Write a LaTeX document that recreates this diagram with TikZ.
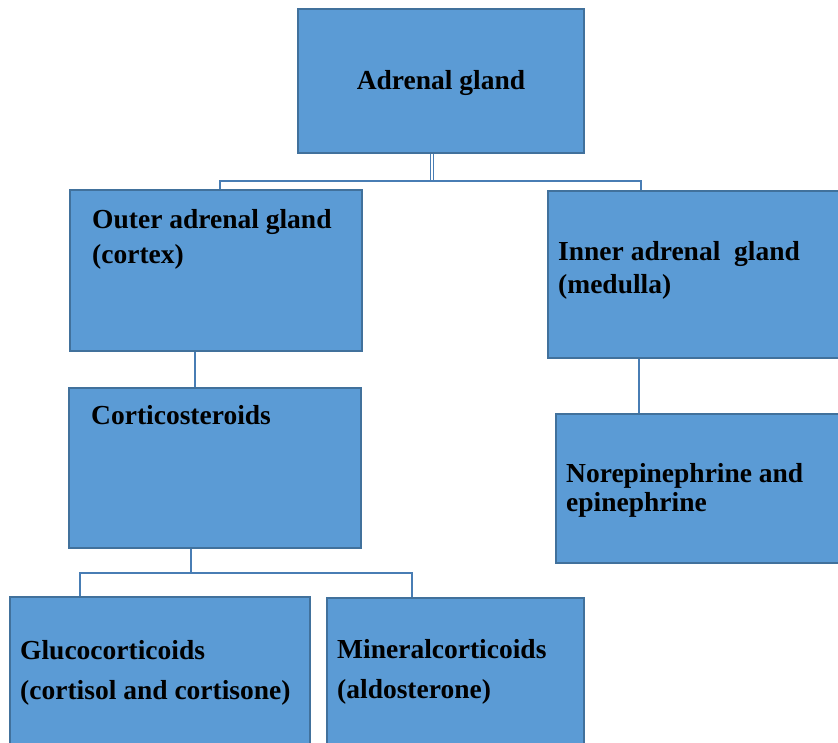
\documentclass[tikz,border=0pt]{standalone}
\usepackage{fontspec}
\setmainfont{Liberation Serif}
\definecolor{boxfill}{RGB}{91,155,213}
\definecolor{boxline}{RGB}{65,113,156}
\definecolor{linkblue}{RGB}{72,125,180}

\begin{document}
\begin{tikzpicture}[x=1pt,y=-1pt,line cap=butt,line join=miter,
    box/.style={draw=boxline,fill=boxfill,line width=1.8pt,inner sep=0pt},
    lbl/.style={inner sep=0pt,font=\bfseries\fontsize{27.5}{34}\selectfont},
    link/.style={draw=linkblue,line width=1.6pt}]
        \useasboundingbox (0,0) rectangle (838,742);

        % Cajas
        \node[box,minimum width=286pt,minimum height=144pt] (adrenal) at (441,81) {};
        \node[box,minimum width=292pt,minimum height=161pt] (outer) at (216,270.5) {};
        \node[box,minimum width=292pt,minimum height=167pt] (inner) at (694,274.5) {};
        \node[box,minimum width=292pt,minimum height=160pt] (cortico) at (215,468) {};
        \node[box,minimum width=284pt,minimum height=149pt] (norepi) at (698,488.5) {};
        \node[box,minimum width=300pt,minimum height=150pt] (gluco) at (160,672) {};
        \node[box,minimum width=257pt,minimum height=150pt] (mineral) at (455.5,673) {};

        % Textos (base = linea de base de la ultima linea)
        \node[lbl,anchor=base] (tAdrenal) at (441,89) {Adrenal gland};
        \node[lbl,anchor=base west,align=left] (tOuter) at (92,263)
            {Outer adrenal gland\\[1pt](cortex)};
        \node[lbl,anchor=base west,align=left] (tInner) at (558,293)
            {Inner adrenal\ \ gland\\[-1pt](medulla)};
        \node[lbl,anchor=base west] (tCortico) at (91,424) {Corticosteroids};
        \node[lbl,anchor=base west,align=left] (tNorepi) at (566,511)
            {Norepinephrine and\\[-5pt]epinephrine};
        \node[lbl,anchor=base west,align=left] (tGluco) at (20,699)
            {Glucocorticoids\\[6pt](cortisol and cortisone)};
        \node[lbl,anchor=base west,align=left] (tMineral) at (337,698)
            {Mineralcorticoids\\[6pt](aldosterone)};

        % Conectores
        \coordinate (split) at (432,181);
        \coordinate (tapL) at (220,181);
        \coordinate (tapR) at (641,181);
        \draw[link,double=white,double distance=1.6pt,line width=1.2pt] (adrenal.south -| split) -- (split);
        \draw[link] (tapL |- outer.north) -- (tapL) -- (tapR) -- (tapR |- inner.north);

        \coordinate (midL) at (195,0);
        \draw[link] (midL |- outer.south) -- (midL |- cortico.north);

        \coordinate (midR) at (639,0);
        \draw[link] (midR |- inner.south) -- (midR |- norepi.north);

        \coordinate (fork) at (191,573);
        \coordinate (forkL) at (80,573);
        \coordinate (forkR) at (412,573);
        \draw[link] (fork |- cortico.south) -- (fork);
        \draw[link] (forkL |- gluco.north) -- (forkL) -- (forkR) -- (forkR |- mineral.north);

    \end{tikzpicture}
\end{document}
